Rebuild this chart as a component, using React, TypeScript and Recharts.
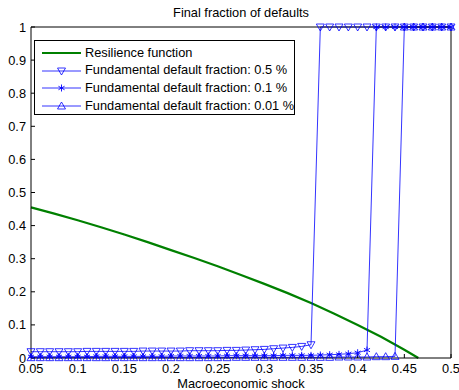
import { LineChart, Line, XAxis, YAxis, Legend } from 'recharts';

// macroeconomic shock grid of the simulations
const shock = [
  0.05, 0.06, 0.07, 0.08, 0.09, 0.1, 0.11, 0.12, 0.13, 0.14,
  0.15, 0.16, 0.17, 0.18, 0.19, 0.2, 0.21, 0.22, 0.23, 0.24,
  0.25, 0.26, 0.27, 0.28, 0.29, 0.3, 0.31, 0.32, 0.33, 0.34,
  0.35, 0.36, 0.37, 0.38, 0.39, 0.4, 0.41, 0.42, 0.43, 0.44,
  0.45, 0.46, 0.47, 0.48, 0.49, 0.5,
];

// final fraction of defaults, fundamental default fraction 0.5 %
const frac05 = [
  0.019, 0.019, 0.019, 0.019, 0.019, 0.019, 0.02, 0.02, 0.02, 0.02,
  0.02, 0.02, 0.021, 0.021, 0.021, 0.021, 0.021, 0.022, 0.022, 0.022,
  0.022, 0.023, 0.023, 0.024, 0.025, 0.026, 0.028, 0.03, 0.032, 0.035,
  0.04, 1, 1, 1, 1, 1, 1, 1, 1, 1,
  1, 1, 1, 1, 1, 1,
];

// fundamental default fraction 0.1 %
const frac01 = [
  0.004, 0.004, 0.004, 0.004, 0.004, 0.004, 0.004, 0.005, 0.005, 0.005,
  0.005, 0.005, 0.005, 0.005, 0.005, 0.006, 0.006, 0.006, 0.006, 0.006,
  0.006, 0.007, 0.007, 0.007, 0.007, 0.007, 0.007, 0.008, 0.008, 0.008,
  0.008, 0.009, 0.01, 0.011, 0.013, 0.016, 0.024, 1, 1, 1,
  1, 1, 1, 1, 1, 1,
];

// fundamental default fraction 0.01 %
const frac001 = [
  0.001, 0.001, 0.001, 0.001, 0.001, 0.001, 0.001, 0.001, 0.001, 0.001,
  0.001, 0.001, 0.001, 0.001, 0.001, 0.001, 0.001, 0.001, 0.001, 0.001,
  0.001, 0.001, 0.002, 0.002, 0.002, 0.002, 0.002, 0.002, 0.002, 0.002,
  0.002, 0.002, 0.002, 0.003, 0.003, 0.003, 0.003, 0.004, 0.004, 0.005,
  1, 1, 1, 1, 1, 1,
];

// resilience function
const resShock = [
  0.05, 0.075, 0.1, 0.125, 0.15, 0.175, 0.2, 0.225, 0.25, 0.275,
  0.3, 0.325, 0.35, 0.375, 0.4, 0.425, 0.45, 0.465,
];
const resilience = [
  0.455, 0.436, 0.416, 0.395, 0.373, 0.35, 0.326, 0.302, 0.277, 0.251,
  0.224, 0.196, 0.166, 0.134, 0.1, 0.064, 0.025, 0,
];

const xTicks = [0.05, 0.1, 0.15, 0.2, 0.25, 0.3, 0.35, 0.4, 0.45, 0.5];
const yTicks = [0, 0.1, 0.2, 0.3, 0.4, 0.5, 0.6, 0.7, 0.8, 0.9, 1];

const legendLabels = [
  'Resilience function',
  'Fundamental default fraction: 0.5 %',
  'Fundamental default fraction: 0.1 %',
  'Fundamental default fraction: 0.01 %',
];

const BLUE = '#0000ff';
const GREEN = '#008000';
const FONT = '"Liberation Sans", Arial, Helvetica, sans-serif';
const FS = 12.8;

const toRows = (ys: number[], xs: number[]) => xs.map((x, i) => ({ x, y: ys[i] }));

type Kind = 'down' | 'star' | 'up';

function Marker({ cx, cy, kind }: { cx: number; cy: number; kind: Kind }) {
  if (kind === 'down') {
    return (
      <polygon
        points={`${cx - 4},${cy - 3} ${cx + 4},${cy - 3} ${cx},${cy + 4}`}
        fill="none" stroke={BLUE} strokeWidth={0.8}
      />
    );
  }
  if (kind === 'up') {
    return (
      <polygon
        points={`${cx - 4},${cy + 3} ${cx + 4},${cy + 3} ${cx},${cy - 4}`}
        fill="none" stroke={BLUE} strokeWidth={0.8}
      />
    );
  }
  const r = 3.5;
  return (
    <g stroke={BLUE} strokeWidth={0.9}>
      <line x1={cx} y1={cy - r} x2={cx} y2={cy + r} />
      <line x1={cx - r * 0.87} y1={cy - r / 2} x2={cx + r * 0.87} y2={cy + r / 2} />
      <line x1={cx - r * 0.87} y1={cy + r / 2} x2={cx + r * 0.87} y2={cy - r / 2} />
    </g>
  );
}

const dotOf = (kind: Kind) => (p: any) =>
  p.cx == null ? <g key={p.key} /> : <g key={p.key}><Marker cx={p.cx} cy={p.cy} kind={kind} /></g>;

function LegendBox() {
  const kinds: (Kind | null)[] = [null, 'down', 'star', 'up'];
  return (
    <div
      style={{
        border: '1px solid #000',
        background: '#fff',
        width: 261,
        height: 75,
        boxSizing: 'border-box',
        paddingTop: 3,
        fontFamily: FONT,
        fontSize: FS,
        color: '#000',
      }}
    >
      {legendLabels.map((label, i) => (
        <div key={label} style={{ display: 'flex', alignItems: 'center', height: 17.8 }}>
          <svg width={50} height={14} style={{ flex: 'none' }}>
            {kinds[i] === null ? (
              <line x1={7} y1={7} x2={46} y2={7} stroke={GREEN} strokeWidth={2} />
            ) : (
              <>
                <line x1={7} y1={7} x2={46} y2={7} stroke={BLUE} strokeWidth={0.8} />
                <Marker cx={26.5} cy={7} kind={kinds[i] as Kind} />
              </>
            )}
          </svg>
          <span style={{ whiteSpace: 'nowrap', lineHeight: 1 }}>{label}</span>
        </div>
      ))}
    </div>
  );
}

const tickStyle = { fill: '#000', fontSize: FS, fontFamily: FONT };

export default function App() {
  return (
    <div style={{ position: 'absolute', left: 0, top: 0, width: 459, height: 390, background: '#fff' }}>
      <LineChart width={459} height={390} margin={{ top: 0, right: 0, bottom: 0, left: 0 }} style={{ fontFamily: FONT }}>
        <XAxis
          xAxisId="bottom"
          dataKey="x"
          type="number"
          domain={[0.05, 0.5]}
          ticks={xTicks}
          height={32}
          tick={tickStyle}
          tickSize={-4}
          tickMargin={10}
          stroke="#000"
          tickLine={{ stroke: '#000' }}
          axisLine={{ stroke: '#000' }}
          allowDuplicatedCategory={false}
          label={{ value: 'Macroeconomic shock', position: 'insideBottom', offset: 2, fill: '#000', fontSize: FS, fontFamily: FONT }}
        />
        <XAxis
          xAxisId="top"
          orientation="top"
          dataKey="x"
          type="number"
          domain={[0.05, 0.5]}
          ticks={xTicks}
          height={27}
          tick={false}
          tickSize={-4}
          stroke="#000"
          tickLine={{ stroke: '#000' }}
          axisLine={{ stroke: '#000' }}
          allowDuplicatedCategory={false}
          label={{ value: 'Final fraction of defaults', position: 'insideTop', offset: 8, fill: '#000', fontSize: FS, fontFamily: FONT }}
        />
        <YAxis
          yAxisId="left"
          type="number"
          domain={[0, 1]}
          ticks={yTicks}
          width={31}
          tick={tickStyle}
          tickSize={-4}
          tickMargin={9}
          stroke="#000"
          tickLine={{ stroke: '#000' }}
          axisLine={{ stroke: '#000' }}
        />
        <YAxis
          yAxisId="right"
          orientation="right"
          type="number"
          domain={[0, 1]}
          ticks={yTicks}
          width={8}
          tick={false}
          tickSize={-4}
          stroke="#000"
          tickLine={{ stroke: '#000' }}
          axisLine={{ stroke: '#000' }}
        />
        <Legend
          layout="vertical"
          align="center"
          verticalAlign="middle"
          wrapperStyle={{ left: 34, top: 40, width: 263, height: 77 }}
          content={() => <LegendBox />}
        />
        <Line
          xAxisId="bottom"
          yAxisId="left"
          data={toRows(resilience, resShock)}
          dataKey="y"
          name={legendLabels[0]}
          stroke={GREEN}
          strokeWidth={2.2}
          dot={false}
          activeDot={false}
          isAnimationActive={false}
        />
        <Line
          xAxisId="bottom"
          yAxisId="left"
          data={toRows(frac05, shock)}
          dataKey="y"
          name={legendLabels[1]}
          stroke={BLUE}
          strokeWidth={0.8}
          dot={dotOf('down')}
          activeDot={false}
          isAnimationActive={false}
        />
        <Line
          xAxisId="bottom"
          yAxisId="left"
          data={toRows(frac01, shock)}
          dataKey="y"
          name={legendLabels[2]}
          stroke={BLUE}
          strokeWidth={0.8}
          dot={dotOf('star')}
          activeDot={false}
          isAnimationActive={false}
        />
        <Line
          xAxisId="bottom"
          yAxisId="left"
          data={toRows(frac001, shock)}
          dataKey="y"
          name={legendLabels[3]}
          stroke={BLUE}
          strokeWidth={0.8}
          dot={dotOf('up')}
          activeDot={false}
          isAnimationActive={false}
        />
      </LineChart>
    </div>
  );
}
